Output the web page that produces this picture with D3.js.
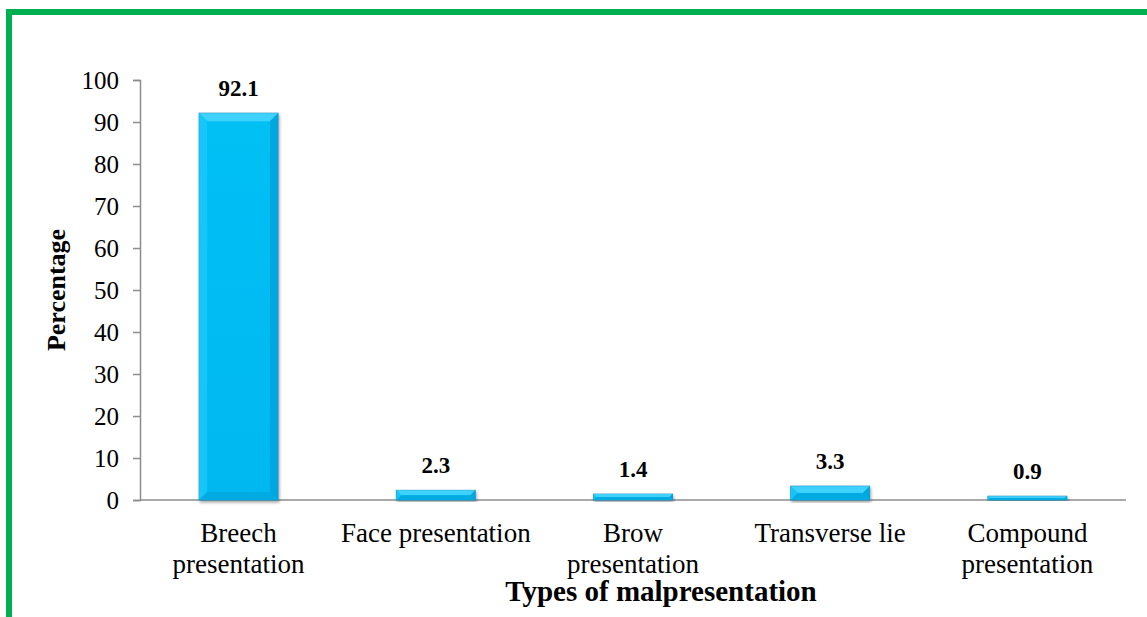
<!DOCTYPE html>
<html lang="en">
<head>
    <title>Types of malpresentation</title>
    <script src="https://d3js.org/d3.v7.min.js"></script>
    <style>
        body { margin: 0; background: #fff; }
        text { font-family: "Liberation Serif", "Times New Roman", serif; fill: #000; }
        .axis path, .axis line { stroke: #8c8c8c; stroke-width: 1.5; }
        .axis text { font-size: 25px; font-family: "Liberation Serif", serif; }
    </style>
</head>
<body>
<script>
    const categories = [["Breech", "presentation"], ["Face presentation"], ["Brow", "presentation"], ["Transverse lie"], ["Compound", "presentation"]];
    const values = [92.1, 2.3, 1.4, 3.3, 0.9];
    const yTicks = [0, 10, 20, 30, 40, 50, 60, 70, 80, 90, 100];

    const W = 1147, H = 617;
    const svg = d3.select("body").append("svg").attr("width", W).attr("height", H);

    // green frame (left + top only)
    svg.append("path")
        .attr("d", "M9,617 V12 H1147")
        .attr("fill", "none").attr("stroke", "#00b050").attr("stroke-width", 6);

    const x = d3.scaleBand().domain(d3.range(values.length)).range([140, 1126]).paddingInner(0.6).paddingOuter(0.3);
    const y = d3.scaleLinear().domain([0, 100]).range([500, 80]);

    const defs = svg.append("defs");
    const g1 = defs.append("linearGradient").attr("id", "face").attr("x1", 0).attr("x2", 0).attr("y1", 0).attr("y2", 1);
    g1.append("stop").attr("offset", 0).attr("stop-color", "#00c0f4");
    g1.append("stop").attr("offset", 1).attr("stop-color", "#00b8f0");
    const sh = defs.append("filter").attr("id", "shadow").attr("x", "-10%").attr("y", "-10%").attr("width", "130%").attr("height", "130%");
    sh.append("feDropShadow").attr("dx", 1).attr("dy", 2).attr("stdDeviation", 1.5).attr("flood-color", "#000").attr("flood-opacity", 0.35);

    // y axis
    svg.append("g").attr("class", "axis").attr("transform", "translate(140,0)")
        .call(d3.axisLeft(y).tickValues(yTicks).tickSize(7).tickPadding(14).tickSizeOuter(7))
        .selectAll("text").attr("dy", "0.33em");

    // x axis line
    svg.append("line").attr("x1", 140).attr("x2", 1126).attr("y1", y(0)).attr("y2", y(0))
        .attr("stroke", "#8c8c8c").attr("stroke-width", 1.5);

    const bars = svg.append("g").selectAll("g").data(values).join("g");
    bars.each(function (d, i) {
        const g = d3.select(this);
        const x0 = x(i), w = x.bandwidth(), y0 = y(d), y1 = y(0), h = y1 - y0;
        const b = Math.min(8, h / 2, w / 2);
        g.append("rect").attr("x", x0).attr("y", y0).attr("width", w).attr("height", h)
            .attr("fill", "url(#face)").attr("stroke", "#2a8fb8").attr("stroke-width", 1)
            .attr("filter", "url(#shadow)");
        // bevel facets
        g.append("path").attr("d", `M${x0},${y0} L${x0 + w},${y0} L${x0 + w - b},${y0 + b} L${x0 + b},${y0 + b} Z`)
            .attr("fill", "#40d2ff");
        g.append("path").attr("d", `M${x0},${y0} L${x0 + b},${y0 + b} L${x0 + b},${y1 - b} L${x0},${y1} Z`)
            .attr("fill", "#14c6fa");
        g.append("path").attr("d", `M${x0 + w},${y0} L${x0 + w - b},${y0 + b} L${x0 + w - b},${y1 - b} L${x0 + w},${y1} Z`)
            .attr("fill", "#00a6de");
        g.append("path").attr("d", `M${x0},${y1} L${x0 + b},${y1 - b} L${x0 + w - b},${y1 - b} L${x0 + w},${y1} Z`)
            .attr("fill", "#02aae2");
        g.append("text").attr("x", x0 + w / 2).attr("y", y0 - 17)
            .attr("text-anchor", "middle").attr("font-size", 23).attr("font-weight", "bold")
            .text(d3.format(".1f")(d));
    });

    // category labels
    const cat = svg.append("g").selectAll("text").data(categories).join("text")
        .attr("x", (d, i) => x(i) + x.bandwidth() / 2)
        .attr("y", 542).attr("text-anchor", "middle").attr("font-size", 27);
    cat.selectAll("tspan").data(d => d).join("tspan")
        .attr("x", function () { return this.parentNode.getAttribute("x"); })
        .attr("dy", (d, i) => i ? 31 : 0)
        .text(d => d);

    // axis titles
    svg.append("text").attr("x", 661).attr("y", 601).attr("text-anchor", "middle")
        .attr("font-size", 29).attr("font-weight", "bold").text("Types of malpresentation");
    svg.append("text").attr("transform", "translate(65,290) rotate(-90)").attr("text-anchor", "middle")
        .attr("font-size", 26).attr("font-weight", "bold").text("Percentage");
</script>
</body>
</html>
